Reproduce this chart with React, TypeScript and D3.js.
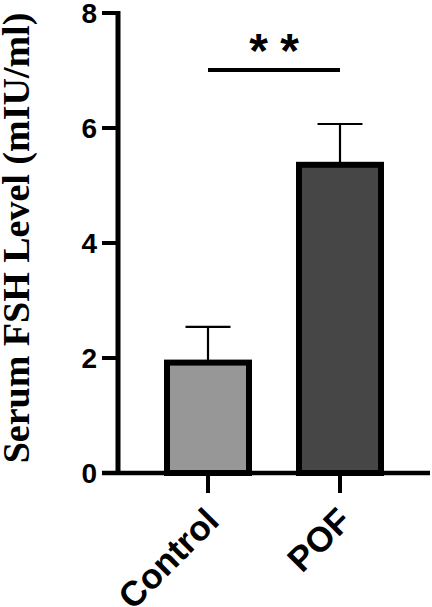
import * as d3 from "d3";

const groups = ["Control", "POF"];
const means = [1.92, 5.36];
const sds = [0.62, 0.71];
const fills = ["#979797", "#464646"];
const yTicks = [0, 2, 4, 6, 8];
const yLabel = "Serum FSH Level (mIU/ml)";
const sigMark = "**";

const W = 432;
const H = 607;

export default function App() {
  const y = d3.scaleLinear().domain([0, 8]).range([473, 13]);
  const x = d3.scalePoint<string>().domain(groups).range([208, 340]);
  const axisX = 118;
  const barW = 82;
  const capW = 45;
  const sans = "'Liberation Sans', Arial, sans-serif";
  const sigCx = (x(groups[0])! + x(groups[1])!) / 2;
  const stars = sigMark.split("");

  return (
    <div style={{ position: "fixed", left: 0, top: 0 }}>
      <svg width={W} height={H} style={{ display: "block", background: "#fff" }}>
        {/* y axis label */}
        <text
          transform={`translate(29,${238}) rotate(-90)`}
          textAnchor="middle"
          fontFamily="'Liberation Serif', 'Times New Roman', serif"
          fontWeight="bold"
          fontSize={38}
        >
          {yLabel}
        </text>

        {/* error bars (drawn under bars) */}
        {groups.map((g, i) => {
          const cx = x(g)!;
          const top = y(means[i] + sds[i]);
          return (
            <g key={"err" + g} stroke="#000" strokeWidth={2.2}>
              <line x1={cx} x2={cx} y1={y(means[i])} y2={top} />
              <line x1={cx - capW / 2} x2={cx + capW / 2} y1={top} y2={top} />
            </g>
          );
        })}

        {/* bars */}
        {groups.map((g, i) => (
          <rect
            key={g}
            x={x(g)! - barW / 2}
            y={y(means[i])}
            width={barW}
            height={y(0) - y(means[i])}
            fill={fills[i]}
            stroke="#000"
            strokeWidth={6}
          />
        ))}

        {/* y axis */}
        <line x1={axisX} x2={axisX} y1={y(8) - 2} y2={y(0) + 2} stroke="#000" strokeWidth={5} />
        {yTicks.map((t) => (
          <g key={t}>
            <line x1={102} x2={axisX} y1={y(t)} y2={y(t)} stroke="#000" strokeWidth={4} />
            <text
              x={97}
              y={y(t) + 3}
              textAnchor="end"
              dominantBaseline="middle"
              fontFamily={sans}
              fontWeight="bold"
              fontSize={28}
            >
              {t}
            </text>
          </g>
        ))}

        {/* x axis */}
        <line x1={102} x2={430} y1={y(0)} y2={y(0)} stroke="#000" strokeWidth={4.5} />
        {groups.map((g) => (
          <g key={"xt" + g}>
            <line x1={x(g)!} x2={x(g)!} y1={y(0)} y2={493} stroke="#000" strokeWidth={4} />
            <text
              transform={`translate(${x(g)! + 13},${523}) rotate(-45)`}
              textAnchor="end"
              fontFamily={sans}
              fontWeight="bold"
              fontSize={35}
            >
              {g}
            </text>
          </g>
        ))}

        {/* significance */}
        <line x1={x(groups[0])!} x2={x(groups[1])!} y1={70} y2={70} stroke="#000" strokeWidth={4} />
        {stars.map((s, i) => (
          <text
            key={"star" + i}
            x={sigCx + (i - (stars.length - 1) / 2) * 31}
            y={67}
            textAnchor="middle"
            fontFamily={sans}
            fontWeight="bold"
            fontSize={48}
          >
            {s}
          </text>
        ))}
      </svg>
    </div>
  );
}
